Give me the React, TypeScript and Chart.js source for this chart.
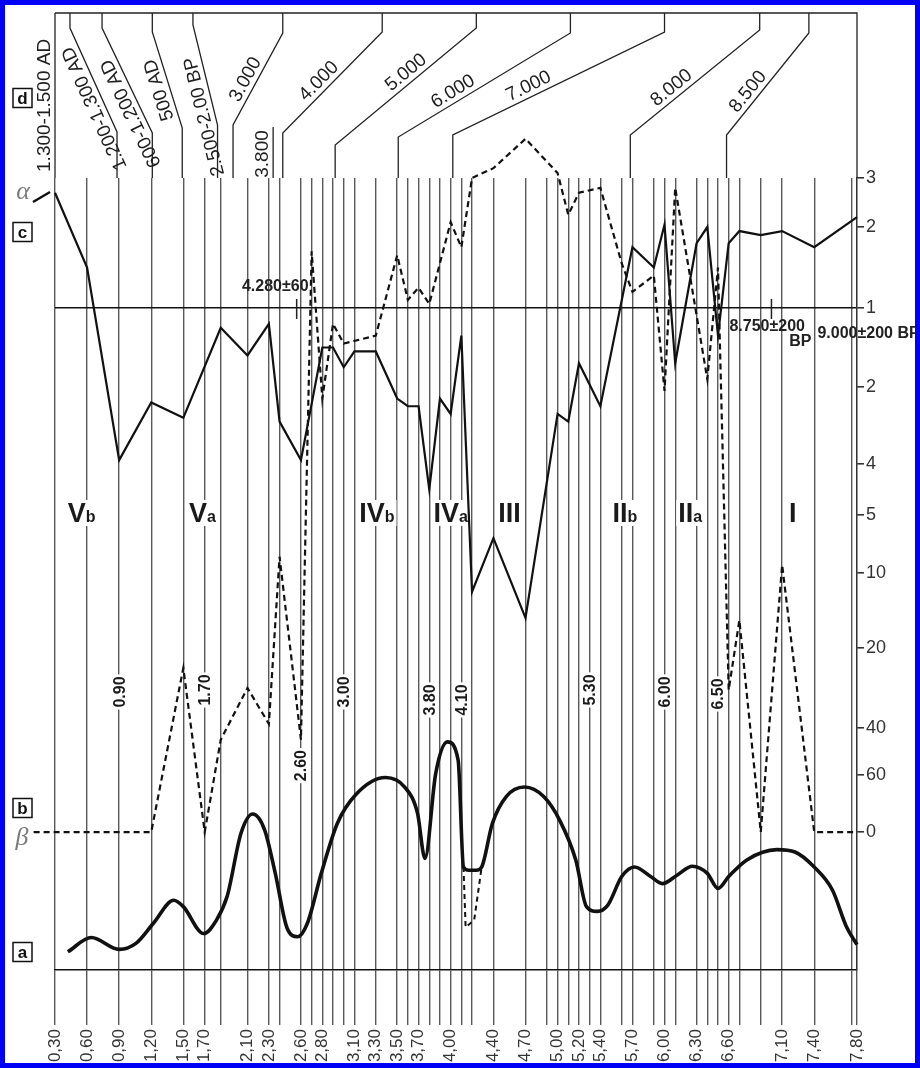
import React, { useEffect, useRef } from 'react';
import { Chart, registerables } from 'chart.js';

Chart.register(...registerables);

const FONT = "'Liberation Sans', Arial, Helvetica, sans-serif";
const SERIF = "'Liberation Serif', 'Times New Roman', serif";

// ---------- depth axis (m) ----------
const sampleDepths = [0.30, 0.60, 0.90, 1.20, 1.50, 1.70, 1.85, 2.10, 2.30, 2.40, 2.60, 2.70, 2.80, 2.90, 3.00, 3.10, 3.30, 3.50, 3.60, 3.70, 3.80, 3.90, 4.00, 4.10, 4.20, 4.40, 4.70, 4.90, 5.00, 5.10, 5.20, 5.30, 5.40, 5.60, 5.70, 5.90, 6.00, 6.10, 6.30, 6.40, 6.50, 6.60, 6.70, 6.90, 7.10, 7.40, 7.75, 7.80];
const labelledDepths = [0.30, 0.60, 0.90, 1.20, 1.50, 1.70, 2.10, 2.30, 2.60, 2.80, 3.10, 3.30, 3.50, 3.70, 4.00, 4.40, 4.70, 5.00, 5.20, 5.40, 5.70, 6.00, 6.30, 6.60, 7.10, 7.40, 7.80];

// ---------- right-hand ratio axis ----------
// positive = ratio above 1; negative = inverse ratio (1:n) drawn below the "1" line; 0 = zero (bottom, beta)
const axisTickValues = [3, 2, 1, -2, -4, -5, -10, -20, -40, -60, 0];
const axisTickLevels = [100, 93.81, 83.59, 73.61, 63.89, 57.45, 50.13, 40.66, 30.56, 24.62, 17.42];

// ---------- series c (solid, alpha) ----------
const cDepths = [0.30, 0.60, 0.90, 1.20, 1.50, 1.85, 2.10, 2.30, 2.40, 2.60, 2.80, 2.90, 3.00, 3.10, 3.30, 3.50, 3.60, 3.70, 3.80, 3.90, 4.00, 4.10, 4.20, 4.40, 4.70, 5.00, 5.10, 5.20, 5.40, 5.70, 5.90, 6.00, 6.10, 6.30, 6.40, 6.50, 6.60, 6.70, 6.90, 7.10, 7.40, 7.80];
const cValues = [2.7, 1.5, -3.9, -2.4, -2.8, -1.25, -1.6, -1.2, -2.9, -3.9, -1.5, -1.5, -1.75, -1.55, -1.55, -2.3, -2.5, -2.5, -4.5, -2.3, -2.7, -1.35, -12.5, -7, -16, -2.7, -2.9, -1.7, -2.5, 1.75, 1.5, 2.05, -1.7, 1.8, 2.0, -1.35, 1.8, 1.95, 1.9, 1.95, 1.75, 2.2];

// ---------- series b (dashed, beta) ----------
const bDepths = [0.10, 1.20, 1.50, 1.70, 1.85, 2.10, 2.30, 2.40, 2.60, 2.70, 2.80, 2.90, 3.00, 3.30, 3.50, 3.60, 3.70, 3.80, 4.00, 4.10, 4.20, 4.40, 4.70, 5.00, 5.10, 5.20, 5.40, 5.60, 5.70, 5.90, 6.00, 6.10, 6.40, 6.50, 6.60, 6.70, 6.90, 7.10, 7.40, 7.80];
const bValues = [0, 0, -25, 0, -45, -30, -39, -8.6, -45, 1.7, -2.3, -1.2, -1.45, -1.35, 1.65, 1.1, 1.25, 1.05, 2.1, 1.75, 3.0, 3.2, 3.8, 3.1, 2.25, 2.7, 2.8, 1.55, 1.2, 1.4, -2.1, 2.8, -1.9, 1.5, -30.5, -16.3, 0, -9.3, 0, 0];

// ---------- series a (thick curve, relative units) ----------
const aDepths = [0.42, 0.64, 0.90, 1.06, 1.22, 1.41, 1.50, 1.69, 1.81, 1.91, 2.04, 2.15, 2.26, 2.36, 2.47, 2.57, 2.66, 2.79, 2.94, 3.11, 3.39, 3.57, 3.69, 3.76, 3.86, 3.97, 4.07, 4.12, 4.17, 4.24, 4.29, 4.39, 4.52, 4.69, 4.87, 5.02, 5.17, 5.27, 5.37, 5.47, 5.60, 5.72, 5.87, 5.98, 6.12, 6.26, 6.40, 6.50, 6.60, 6.77, 7.05, 7.22, 7.40, 7.57, 7.70, 7.80];
const aValues = [2.3, 4.1, 2.6, 3.4, 5.9, 8.8, 8.0, 4.6, 6.3, 9.3, 17.3, 19.7, 17.7, 12.2, 5.3, 4.2, 5.9, 12.2, 18.5, 22.1, 24.3, 23.1, 19.8, 14.1, 24.8, 28.8, 26.5, 13.0, 12.6, 12.6, 13.0, 18.5, 21.9, 23.1, 21.9, 18.9, 13.9, 8.0, 7.4, 8.2, 11.8, 13.0, 11.8, 10.9, 12.0, 13.1, 12.2, 10.3, 11.8, 13.9, 15.2, 14.9, 13.0, 10.1, 5.5, 3.2];
const aGapDepths = [4.12, 4.14, 4.22, 4.29];
const aGapValues = [13.0, 5.4, 6.3, 13.0];

// ---------- annotations ----------
const zoneNames = ['V', 'V', 'IV', 'IV', 'III', 'II', 'II', 'I'];
const zoneSubs = ['b', 'a', 'b', 'a', '', 'b', 'a', ''];
const zoneDepths = [0.55, 1.68, 3.31, 4.00, 4.55, 5.63, 6.24, 7.20];
const zoneValue = -5.6;

const markerTexts = ['0.90', '1.70', '2.60', '3.00', '3.80', '4.10', '5.30', '6.00', '6.50'];
const markerDepths = [0.90, 1.70, 2.60, 3.00, 3.80, 4.10, 5.30, 6.00, 6.50];
const markerValues = [-31, -30.5, -56, -31, -33, -33, -30.5, -31, -31.5];

const dateTexts = ['4.280±60', '8.750±200', 'BP', '9.000±200 BP'];
const dateDepths = [2.36, 6.96, 7.27, 7.43];
const dateValues = [1.26, -1.23, -1.43, -1.33];
const dateTickDepths = [2.56, 7.00];

// ---------- age header (panel d) ----------
const ageLabels = ['1.300-1.500 AD', '1.200-1.300 AD', '600-1.200 AD', '500 AD', '2.500-2.00 BP', '3.000', '3.800', '4.000', '5.000', '6.000', '7.000', '8.000', '8.500'];
const ageTopDepths = [0.30, 0.44, 0.74, 1.21, 1.59, 2.43, NaN, 3.36, 4.24, 5.12, 6.00, 6.89, 7.35];
const ageBaseDepths = [0.30, 0.88, 1.21, 1.49, 1.82, 1.965, 2.34, 2.43, 2.92, 3.51, 4.02, 5.68, 6.58];
const ageUpperKink = [13, 28, 28, 32, 25, 33, 127, 32, 28, 33, 32, 30, 33];
const ageLowerKink = [178, 132, 133, 128, 125, 125, 177, 133, 145, 137, 135, 135, 135];
const ageLabelAt = [0.44, 0.27, 0.23, 0.43, 0.11, 0.44, 0.46, 0.44, 0.55, 0.35, 0.38, 0.37, 0.36];
const HEADER_TOP = 13;

function interp(vs: number[], ls: number[], v: number): number {
  const n = vs.length;
  if (v >= vs[0]) return ls[0] + (v - vs[0]) * (ls[0] - ls[1]) / (vs[0] - vs[1]);
  if (v <= vs[n - 1]) return ls[n - 1] + (v - vs[n - 1]) * (ls[n - 1] - ls[n - 2]) / (vs[n - 1] - vs[n - 2]);
  for (let i = 0; i < n - 1; i++) {
    if (v <= vs[i] && v >= vs[i + 1]) {
      return ls[i] + (v - vs[i]) * (ls[i + 1] - ls[i]) / (vs[i + 1] - vs[i]);
    }
  }
  return ls[n - 1];
}

// value on the ratio axis -> axis level (0..100)
function toLevel(v: number): number {
  const oneLevel = axisTickLevels[2];
  if (v >= 1) return interp([3, 2, 1], [axisTickLevels[0], axisTickLevels[1], oneLevel], v);
  if (v <= -1) {
    return interp([-1, -2, -4, -5, -10, -20, -40, -60], [oneLevel, ...axisTickLevels.slice(3, 10)], v);
  }
  return axisTickLevels[10];
}

const annotationPlugin = {
  id: 'figureAnnotations',
  beforeDraw(chart: any) {
    const { ctx, width, height } = chart;
    ctx.save();
    ctx.fillStyle = '#ffffff';
    ctx.fillRect(0, 0, width, height);
    ctx.restore();
  },
  beforeDatasetsDraw(chart: any) {
    const { ctx } = chart;
    const xs = chart.scales.x;
    const ys = chart.scales.y;
    ctx.save();
    // zone labels
    const zy = ys.getPixelForValue(toLevel(zoneValue));
    zoneNames.forEach((name, i) => {
      ctx.font = `bold 27px ${FONT}`;
      const w1 = ctx.measureText(name).width;
      ctx.font = `bold 16px ${FONT}`;
      const w2 = zoneSubs[i] ? ctx.measureText(zoneSubs[i]).width : 0;
      const cx = xs.getPixelForValue(zoneDepths[i]);
      const x0 = cx - (w1 + w2) / 2;
      ctx.fillStyle = '#ffffff';
      ctx.fillRect(x0 - 2, zy - 22, w1 + w2 + 4, 26);
      ctx.fillStyle = '#1a1a1a';
      ctx.textAlign = 'left';
      ctx.textBaseline = 'alphabetic';
      ctx.font = `bold 27px ${FONT}`;
      ctx.fillText(name, x0, zy);
      if (zoneSubs[i]) {
        ctx.font = `bold 16px ${FONT}`;
        ctx.fillText(zoneSubs[i], x0 + w1, zy);
      }
    });
    // depth markers (rotated)
    ctx.font = `bold 16px ${FONT}`;
    markerTexts.forEach((t, i) => {
      const x = xs.getPixelForValue(markerDepths[i]);
      const y = ys.getPixelForValue(toLevel(markerValues[i]));
      const w = ctx.measureText(t).width;
      ctx.save();
      ctx.translate(x, y);
      ctx.rotate(-Math.PI / 2);
      ctx.fillStyle = '#ffffff';
      ctx.fillRect(-w / 2 - 2, -8, w + 4, 16);
      ctx.fillStyle = '#1a1a1a';
      ctx.textAlign = 'center';
      ctx.textBaseline = 'middle';
      ctx.fillText(t, 0, 1);
      ctx.restore();
    });
    // dated levels
    ctx.font = `bold 16px ${FONT}`;
    ctx.fillStyle = '#222';
    ctx.textBaseline = 'middle';
    dateTexts.forEach((t, i) => {
      ctx.textAlign = i === 3 ? 'left' : 'center';
      ctx.fillText(t, xs.getPixelForValue(dateDepths[i]), ys.getPixelForValue(toLevel(dateValues[i])));
    });
    const lineY = ys.getPixelForValue(axisTickLevels[2]);
    ctx.strokeStyle = '#222';
    ctx.lineWidth = 1.5;
    dateTickDepths.forEach((d) => {
      const x = xs.getPixelForValue(d);
      ctx.beginPath();
      ctx.moveTo(x, lineY - 9);
      ctx.lineTo(x, lineY + 11);
      ctx.stroke();
    });
    ctx.restore();
  },
  afterDraw(chart: any) {
    const { ctx, chartArea } = chart;
    const xs = chart.scales.x;
    ctx.save();
    // header frame
    ctx.strokeStyle = '#222';
    ctx.lineWidth = 1.3;
    ctx.beginPath();
    ctx.moveTo(xs.getPixelForValue(0.30), HEADER_TOP);
    ctx.lineTo(xs.getPixelForValue(7.80), HEADER_TOP);
    ctx.lineTo(xs.getPixelForValue(7.80), chartArea.top);
    ctx.stroke();
    // age correlation lines + labels
    ctx.font = `19px ${FONT}`;
    ctx.fillStyle = '#1e1e1e';
    ageLabels.forEach((label, i) => {
      const xb = xs.getPixelForValue(ageBaseDepths[i]);
      const hasTop = !isNaN(ageTopDepths[i]);
      const xt = hasTop ? xs.getPixelForValue(ageTopDepths[i]) : xb;
      ctx.beginPath();
      if (hasTop) {
        ctx.moveTo(xt, HEADER_TOP);
        ctx.lineTo(xt, ageUpperKink[i]);
        ctx.lineTo(xb, ageLowerKink[i]);
      } else {
        ctx.moveTo(xb, ageUpperKink[i]);
      }
      ctx.lineTo(xb, chartArea.top);
      ctx.stroke();
      const Lx = xb, Ly = ageLowerKink[i];
      const Ux = xt, Uy = ageUpperKink[i];
      const th = Math.atan2(Uy - Ly, Ux - Lx);
      const t = ageLabelAt[i];
      const off = 10.5;
      const cx = Lx + t * (Ux - Lx) + off * Math.sin(th);
      const cy = Ly + t * (Uy - Ly) - off * Math.cos(th);
      ctx.save();
      ctx.translate(cx, cy);
      ctx.rotate(th);
      ctx.textAlign = 'center';
      ctx.textBaseline = 'middle';
      ctx.fillText(label, 0, 0);
      ctx.restore();
    });
    // panel letters
    const letters = ['d', 'c', 'b', 'a'];
    const letterY = [98, 232, 808, 952];
    ctx.lineWidth = 1.5;
    ctx.strokeStyle = '#111';
    ctx.font = `bold 17px ${FONT}`;
    ctx.textAlign = 'center';
    ctx.textBaseline = 'middle';
    letters.forEach((l, i) => {
      ctx.fillStyle = '#ffffff';
      ctx.fillRect(13, letterY[i] - 9.5, 19, 19);
      ctx.strokeRect(13, letterY[i] - 9.5, 19, 19);
      ctx.fillStyle = '#111';
      ctx.fillText(l, 22.5, letterY[i] + 1);
    });
    // alpha / beta
    ctx.fillStyle = '#7a7a7a';
    ctx.font = `italic 26px ${SERIF}`;
    ctx.fillText('α', 23, 192);
    ctx.fillText('β', 22, 838);
    ctx.strokeStyle = '#111';
    ctx.lineWidth = 2.4;
    ctx.beginPath();
    ctx.moveTo(33, 202);
    ctx.lineTo(50, 192);
    ctx.stroke();
    // blue frame
    ctx.strokeStyle = '#0000f5';
    ctx.lineWidth = 5;
    ctx.strokeRect(2.5, 2.5, chart.width - 5, chart.height - 5);
    ctx.restore();
  },
};

export default function App() {
  const ref = useRef<HTMLCanvasElement>(null);
  useEffect(() => {
    const canvas = ref.current;
    if (!canvas) return;
    const oneLevel = axisTickLevels[2];
    const chart = new Chart(canvas, {
      type: 'line',
      data: {
        datasets: [
          {
            label: 'a',
            data: aDepths.map((x, i) => ({ x, y: aValues[i] })),
            yAxisID: 'yA',
            borderColor: '#111',
            borderWidth: 3.6,
            pointRadius: 0,
            cubicInterpolationMode: 'monotone',
            clip: false,
          },
          {
            label: 'a (uncertain)',
            data: aGapDepths.map((x, i) => ({ x, y: aGapValues[i] })),
            yAxisID: 'yA',
            borderColor: '#111',
            borderWidth: 2,
            borderDash: [5, 4],
            pointRadius: 0,
            clip: false,
          },
          {
            label: 'c',
            data: cDepths.map((x, i) => ({ x, y: toLevel(cValues[i]) })),
            yAxisID: 'y',
            borderColor: '#111',
            borderWidth: 2.2,
            pointRadius: 0,
            tension: 0,
            clip: false,
          },
          {
            label: 'b',
            data: bDepths.map((x, i) => ({ x, y: toLevel(bValues[i]) })),
            yAxisID: 'y',
            borderColor: '#111',
            borderWidth: 2.2,
            borderDash: [6, 4],
            pointRadius: 0,
            tension: 0,
            clip: false,
          },
        ] as any,
      },
      options: {
        animation: false,
        responsive: false,
        maintainAspectRatio: false,
        devicePixelRatio: 1,
        layout: { padding: { left: 55, top: 178, right: 0, bottom: 0 } },
        plugins: { legend: { display: false }, tooltip: { enabled: false } },
        scales: {
          x: {
            type: 'linear',
            min: 0.3,
            max: 7.8,
            afterBuildTicks: (s: any) => {
              s.ticks = sampleDepths.map((v) => ({ value: v }));
            },
            afterFit: (s: any) => {
              s.height = 98;
            },
            grid: { color: '#585858', lineWidth: 1.4, tickLength: 55, drawTicks: true, drawOnChartArea: true },
            border: { display: true, color: '#111', width: 1.6 },
            ticks: {
              autoSkip: false,
              minRotation: 90,
              maxRotation: 90,
              padding: 4,
              color: '#333',
              font: { family: FONT, size: 17 },
              callback: (v: any) =>
                labelledDepths.some((d) => Math.abs(d - Number(v)) < 1e-6) ? Number(v).toFixed(2).replace('.', ',') : '',
            },
          },
          y: {
            type: 'linear',
            position: 'right',
            min: 0,
            max: 100,
            afterBuildTicks: (s: any) => {
              s.ticks = axisTickLevels.map((v) => ({ value: v }));
            },
            afterFit: (s: any) => {
              s.width = 63;
            },
            grid: {
              color: (c: any) => (c.tick && Math.abs(c.tick.value - oneLevel) < 1e-6 ? '#111' : 'rgba(0,0,0,0)'),
              tickColor: '#333',
              tickLength: 7,
              lineWidth: 1.6,
            },
            border: { display: true, color: '#333', width: 1.3 },
            ticks: {
              autoSkip: false,
              padding: 2,
              color: '#333',
              font: { family: FONT, size: 18 },
              callback: (v: any) => {
                const i = axisTickLevels.findIndex((l) => Math.abs(l - Number(v)) < 1e-6);
                return i >= 0 ? String(Math.abs(axisTickValues[i])) : '';
              },
            },
          },
          yA: { type: 'linear', display: false, min: 0, max: 100 },
        },
      } as any,
      plugins: [annotationPlugin],
    });
    return () => chart.destroy();
  }, []);
  return (
    <div style={{ position: 'absolute', left: 0, top: 0, width: 920, height: 1068 }}>
      <canvas ref={ref} width={920} height={1068} style={{ display: 'block', width: 920, height: 1068 }} />
    </div>
  );
}
